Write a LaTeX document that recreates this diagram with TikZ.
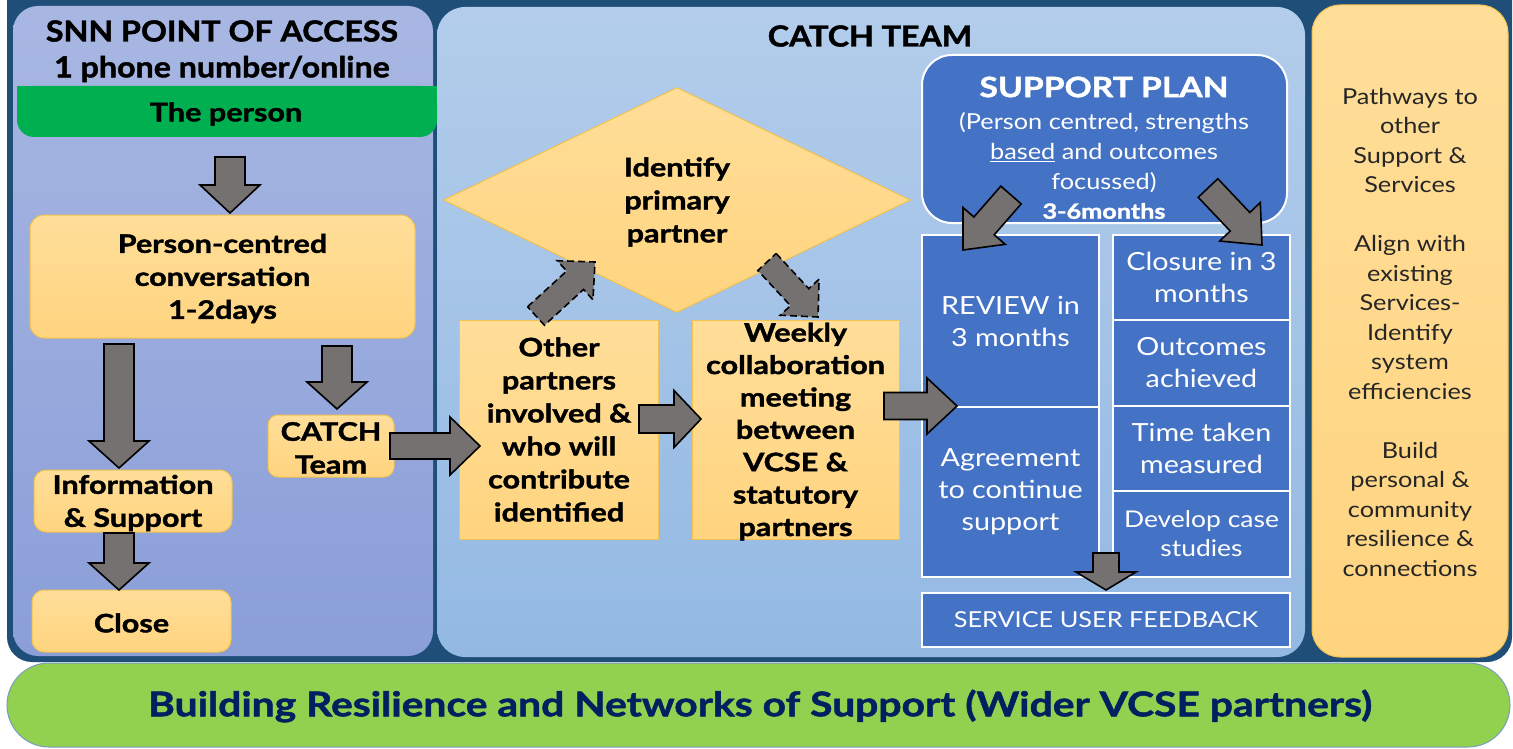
\documentclass[tikz,border=0pt]{standalone}
\usepackage{fontspec}
\setmainfont{Lato}[UprightFeatures={FakeStretch=1.15},BoldFeatures={FakeStretch=1.2,FakeBold=1.5}]
\newfontfamily\ttlfont{Lato}[FakeStretch=1.11,BoldFeatures={FakeBold=1.5}]
\usetikzlibrary{shapes.geometric,calc}
\definecolor{navy}{HTML}{1F4E79}
\definecolor{lpTop}{HTML}{A8B7E2}
\definecolor{lpBot}{HTML}{8A9ED8}
\definecolor{cpTop}{HTML}{B3CDEB}
\definecolor{cpBot}{HTML}{93B9E3}
\definecolor{yTop}{HTML}{FFDE99}
\definecolor{yBot}{HTML}{FFD47F}
\definecolor{ybord}{HTML}{F2C14E}
\definecolor{pblue}{HTML}{4472C4}
\definecolor{pgreen}{HTML}{00B050}
\definecolor{lgreen}{HTML}{92D050}
\definecolor{gbord}{HTML}{7A9CC0}
\definecolor{agray}{HTML}{767171}
\definecolor{tnavy}{HTML}{002060}
\definecolor{rtext}{HTML}{262626}
\newcommand\blockarrow[6][]{%
  \coordinate (bac) at ($(#3)!#6!(#2)$);
  \draw[barrow,#1] ($(#2)!#4!90:(#3)$) -- ($(bac)!#4!90:(#3)$) -- ($(bac)!#5!90:(#3)$) -- (#3)
     -- ($(bac)!#5!-90:(#3)$) -- ($(bac)!#4!-90:(#3)$) -- ($(#2)!#4!-90:(#3)$) -- cycle;}
\begin{document}
\begin{tikzpicture}[x=1pt,y=-1pt,
  ybox/.style={draw=ybord,line width=1pt,top color=yTop,bottom color=yBot,inner sep=0pt},
  bbox/.style={draw=white,line width=2pt,fill=pblue,inner sep=0pt,text=white,align=center,font=\fontsize{25}{32}\selectfont},
  btxt/.style={font=\bfseries\fontsize{25.5}{33}\selectfont,align=center,inner sep=0pt,yshift=-2pt},
  ttl/.style={font=\ttlfont\bfseries\fontsize{29}{38}\selectfont,align=center,inner sep=0pt},
  barrow/.style={draw=black,line width=1.6pt,fill=agray,line join=miter},
  dasharrow/.style={barrow,dash pattern=on 7pt off 4pt}]
\useasboundingbox (0,0) rectangle (1513,749);
\clip (0,0) rectangle (1513,749);
\fill[white] (0,0) rectangle (1513,749);
% top slivers
\draw[black,line width=1.5pt,fill=gray!15,rounded corners=4pt] (12,-30) rectangle (311,2);
\draw[black,line width=1.5pt,fill=gray!15,rounded corners=4pt] (1205,-30) rectangle (1503,2);
% frame and panels
\fill[navy,rounded corners=25pt] (7,-40) rectangle (1512,662);
\shade[top color=lpTop,bottom color=lpBot,rounded corners=25pt] (13,6) rectangle (433,656);
\shade[top color=cpTop,bottom color=cpBot,rounded corners=28pt] (437,7) rectangle (1305,657);
\draw[draw=ybord,line width=1pt,top color=yTop,bottom color=yBot,rounded corners=28pt] (1312,5) rectangle (1508,657);
% bottom bar
\draw[draw=gbord,line width=1pt,fill=lgreen,rounded corners=42pt] (7,663) rectangle (1510,747);
\node[font=\bfseries\fontsize{34}{40}\selectfont,text=tnavy] (bottom) at (760,706) {Building Resilience and Networks of Support (Wider VCSE partners)};
% left panel
\node[ttl] (snn) at (222,31) {SNN POINT OF ACCESS};
\node[ttl] (phone) at (222,69) {1 phone number/online};
\fill[pgreen,rounded corners=17pt] (17,86) rectangle (437,137);
\fill[pgreen] (17,86) rectangle (437,112);
\node[btxt] (person) at (226,112) {The person};
\node[ybox,rounded corners=14pt,minimum width=385pt,minimum height=123pt] (pcc) at (222.5,276.5) {};
\node[btxt] (pcct) at (pcc) {Person-centred\\conversation\\1-2days};
\node[ybox,rounded corners=10pt,minimum width=126pt,minimum height=62pt] (catch) at (331,446) {};
\node[btxt] (catcht) at (catch) {CATCH\\Team};
\node[ybox,rounded corners=12pt,minimum width=198pt,minimum height=62pt] (info) at (133,501) {};
\node[btxt] (infot) at (info) {Information\\\& Support};
\node[ybox,rounded corners=12pt,minimum width=199pt,minimum height=62pt] (close) at (131.5,621) {};
\node[btxt] (closet) at (close) {Close};
% centre panel
\node[ttl] (catchteam) at (870,36) {CATCH TEAM};
\node[diamond,draw=ybord,line width=1pt,top color=yTop,bottom color=yBot,minimum width=467pt,minimum height=225pt,inner sep=0pt] (dia) at (677,200) {};
\node[btxt] (diat) at (dia) {Identify\\primary\\partner};
\node[ybox,minimum width=199pt,minimum height=219pt] (other) at (559,429.5) {};
\node[btxt,yshift=2pt] (othert) at (other) {Other\\partners\\involved \&\\who will\\contribute\\identified};
\node[ybox,minimum width=207pt,minimum height=219pt] (weekly) at (795.5,429.5) {};
\node[btxt,font=\bfseries\fontsize{25.5}{32.4}\selectfont] (weeklyt) at (weekly) {Weekly\\collaboration\\meeting\\between\\VCSE \&\\statutory\\partners};
% support plan
\node[draw=white,line width=2pt,fill=pblue,rounded corners=30pt,minimum width=365pt,minimum height=168pt] (sp) at (1104.5,139) {};
\node[font=\bfseries\fontsize{28}{34}\selectfont,text=white] (spt) at (1104,87) {SUPPORT PLAN};
\node[font=\fontsize{22}{30}\selectfont,text=white,align=center] (sps) at (1104,152.5) {(Person centred, strengths\\\underline{based} and outcomes\\focussed)};
\node[font=\bfseries\fontsize{21}{24}\selectfont,text=white] (spm) at (1104,211) {3-6months};
\node[bbox,minimum width=177pt,minimum height=172pt] (review) at (1010.5,321) {REVIEW in\\3 months};
\node[bbox,minimum width=177pt,minimum height=170pt] (agree) at (1010.5,492) {Agreement\\to continue\\support};
\node[bbox,minimum width=177pt,minimum height=85pt] (closure) at (1201.5,277.5) {Closure in 3\\months};
\node[bbox,minimum width=177pt,minimum height=86pt] (outc) at (1201.5,363) {Outcomes\\achieved};
\node[bbox,minimum width=177pt,minimum height=85pt] (timet) at (1201.5,448.5) {Time taken\\measured};
\node[bbox,minimum width=177pt,minimum height=86pt,font=\fontsize{23}{29}\selectfont] (dev) at (1201.5,534) {Develop case\\studies};
\node[bbox,minimum width=368pt,minimum height=54pt,font=\fontsize{22}{26}\selectfont] (fb) at (1106,620) {SERVICE USER FEEDBACK};
% right panel
\node[font=\fontsize{22}{29.5}\selectfont,text=rtext,align=center] (rp) at (1410,332) {Pathways to\\other\\Support \&\\Services\\[29.5pt]Align with\\existing\\Services-\\Identify\\system\\efficiencies\\[29.5pt]Build\\personal \&\\community\\resilience \&\\connections};
% arrows
\coordinate (a1s) at (230,157); \coordinate (a1e) at (230,213);
\coordinate (a2s) at (119,344); \coordinate (a2e) at (119,468);
\coordinate (a3s) at (337,346); \coordinate (a3e) at (337,409);
\coordinate (a4s) at (119,533); \coordinate (a4e) at (119,590);
\coordinate (a5s) at (390,446); \coordinate (a5e) at (480,446);
\coordinate (a6s) at (639,419); \coordinate (a6e) at (701,419);
\coordinate (a7s) at (884,406); \coordinate (a7e) at (957,406);
\coordinate (a8s) at (1106,553); \coordinate (a8e) at (1106,590);
\coordinate (d1s) at (536,316); \coordinate (d1e) at (595,262);
\coordinate (d2s) at (767,262); \coordinate (d2e) at (818,317);
\coordinate (s1s) at (1011,195); \coordinate (s1e) at (963,250);
\coordinate (s2s) at (1208,188); \coordinate (s2e) at (1262,245);
\blockarrow{a1s}{a1e}{15pt}{30pt}{28pt}
\blockarrow{a2s}{a2e}{15pt}{30pt}{27pt}
\blockarrow{a3s}{a3e}{15pt}{30pt}{27pt}
\blockarrow{a4s}{a4e}{15pt}{30pt}{27pt}
\blockarrow{a5s}{a5e}{13pt}{29pt}{30pt}
\blockarrow{a6s}{a6e}{14pt}{28.5pt}{27pt}
\blockarrow{a7s}{a7e}{13.5pt}{28pt}{30pt}
\blockarrow{a8s}{a8e}{13pt}{30pt}{18pt}
\blockarrow[dasharrow]{d1s}{d1e}{12.5pt}{26.5pt}{27pt}
\blockarrow[dasharrow]{d2s}{d2e}{12.5pt}{26.5pt}{27pt}
\blockarrow{s1s}{s1e}{13.5pt}{28pt}{32pt}
\blockarrow{s2s}{s2e}{13.5pt}{28pt}{32pt}
\end{tikzpicture}
\end{document}
